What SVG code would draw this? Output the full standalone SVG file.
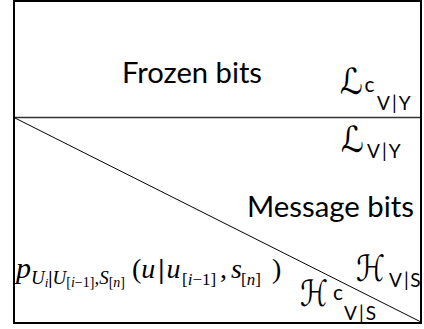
<svg xmlns="http://www.w3.org/2000/svg" width="424" height="329" viewBox="0 0 424 329">
<style>
.lbl{font-family:Lato,"Open Sans","Liberation Sans",sans-serif;fill:#000}
.big{font-size:28px}
.sub{font-size:19px}
.sup{font-size:21px}
.scr{font-family:"DejaVu Serif","DejaVu Sans",serif;font-size:36px;fill:#000}
.mth{font-family:"Liberation Serif","Times New Roman",serif;fill:#000}
.it{font-style:italic}
</style>
<rect width="424" height="329" fill="#fff"/>
<g id="connectors" fill="none">
<line x1="15" y1="117.5" x2="421" y2="117.5" stroke="#333" stroke-width="1.5"/>
<line x1="15" y1="118" x2="421" y2="322" stroke="#000" stroke-width="1"/>
</g>
<g id="frame"><rect x="14" y="1" width="407" height="322" fill="none" stroke="#000" stroke-width="2"/></g>
<g id="frozen"><text class="lbl big" x="122" y="83" textLength="140" lengthAdjust="spacingAndGlyphs">Frozen bits</text></g>
<g id="message"><text class="lbl big" x="247" y="217" textLength="167" lengthAdjust="spacingAndGlyphs">Message bits</text></g>
<g id="lc-vy">
<text class="scr" x="340" y="94" textLength="23" lengthAdjust="spacingAndGlyphs">ℒ</text>
<text class="lbl sup" x="364.5" y="92">c</text>
<text class="lbl sub" x="377" y="110">V<tspan dx="2">|</tspan><tspan dx="2">Y</tspan></text>
</g>
<g id="l-vy">
<text class="scr" x="341" y="152" textLength="23" lengthAdjust="spacingAndGlyphs">ℒ</text>
<text class="lbl sub" x="367" y="158">V<tspan dx="2">|</tspan><tspan dx="2">Y</tspan></text>
</g>
<g id="h-vs">
<text class="scr" x="356" y="281" textLength="29" lengthAdjust="spacingAndGlyphs">ℋ</text>
<text class="lbl sub" x="389" y="287">V<tspan dx="2">|</tspan><tspan dx="1.5">S</tspan></text>
</g>
<g id="hc-vs">
<text class="scr" x="300" y="306" textLength="28" lengthAdjust="spacingAndGlyphs">ℋ</text>
<text class="lbl sup" x="333" y="300">c</text>
<text class="lbl sub" x="344" y="320">V<tspan dx="2">|</tspan><tspan dx="2">S</tspan></text>
</g>
<g id="formula">
<text class="mth it" x="16" y="278" font-size="30">p</text>
<text class="mth" y="284" font-size="19"><tspan x="31" class="it">U</tspan><tspan class="it" font-size="13" dy="3">i</tspan><tspan dy="-3" font-weight="bold">|</tspan><tspan class="it">U</tspan><tspan font-size="14" dy="3">[</tspan><tspan class="it" font-size="14">i</tspan><tspan font-size="14">−1]</tspan><tspan dy="-3">,</tspan><tspan class="it">S</tspan><tspan font-size="14" dy="3">[</tspan><tspan class="it" font-size="14">n</tspan><tspan font-size="14">]</tspan></text>
<text class="mth" y="278" font-size="28"><tspan x="132">(</tspan><tspan class="it">u</tspan><tspan dx="3" font-weight="bold">|</tspan><tspan dx="2" class="it">u</tspan></text>
<text class="mth" y="285" font-size="17"><tspan x="182">[</tspan><tspan class="it">i</tspan><tspan>−1]</tspan></text>
<text class="mth" y="278" font-size="28"><tspan x="220">,</tspan><tspan class="it" dx="4">s</tspan></text>
<text class="mth" y="285" font-size="17"><tspan x="241">[</tspan><tspan class="it">n</tspan><tspan>]</tspan></text>
<text class="mth" x="272" y="278" font-size="28">)</text>
</g>
</svg>
